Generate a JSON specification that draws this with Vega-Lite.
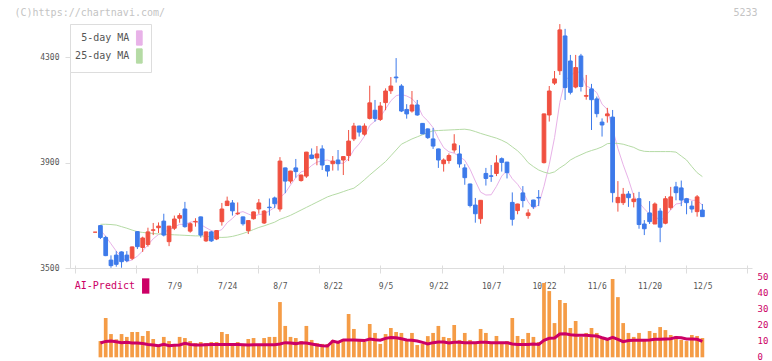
{
  "$schema": "https://vega.github.io/schema/vega-lite/v6.json",
  "width": 682,
  "height": 334,
  "autosize": {"type": "none"},
  "padding": {"left": 70, "top": 24, "right": 20, "bottom": 3},
  "background": "white",
  "config": {"view": {"stroke": null}, "font": "DejaVu Sans Mono"},
  "datasets": {
    "k": [
      {"i":-1,"o":3636,"h":3636,"l":3636,"c":3636,"m5":null,"m25":null,"v":null,"p":null},
      {"i":0,"o":3661,"h":3663,"l":3610,"c":3616,"m5":3644,"m25":3666,"v":10.2,"p":9.0},
      {"i":1,"o":3616,"h":3622,"l":3545,"c":3547,"m5":3620,"m25":3666,"v":24.7,"p":10.0},
      {"i":2,"o":3530,"h":3548,"l":3501,"c":3509,"m5":3592,"m25":3665,"v":14.6,"p":10.2},
      {"i":3,"o":3549,"h":3564,"l":3505,"c":3514,"m5":3564,"m25":3663,"v":11.3,"p":9.8},
      {"i":4,"o":3561,"h":3563,"l":3501,"c":3524,"m5":3542,"m25":3657,"v":14.6,"p":9.2},
      {"i":5,"o":3549,"h":3564,"l":3522,"c":3528,"m5":3524,"m25":3651,"v":12.8,"p":9.4},
      {"i":6,"o":3537,"h":3581,"l":3530,"c":3580,"m5":3531,"m25":3644,"v":15.9,"p":9.0},
      {"i":7,"o":3638,"h":3640,"l":3572,"c":3581,"m5":3545,"m25":3638,"v":15.9,"p":9.0},
      {"i":8,"o":3578,"h":3619,"l":3561,"c":3614,"m5":3565,"m25":3635,"v":13.4,"p":8.6},
      {"i":9,"o":3589,"h":3653,"l":3581,"c":3637,"m5":3588,"m25":3633,"v":16.5,"p":8.1},
      {"i":10,"o":3643,"h":3671,"l":3625,"c":3645,"m5":3611,"m25":3631,"v":11.5,"p":7.7},
      {"i":11,"o":3653,"h":3673,"l":3633,"c":3659,"m5":3627,"m25":3629,"v":7.7,"p":7.3},
      {"i":12,"o":3678,"h":3706,"l":3620,"c":3625,"m5":3636,"m25":3628,"v":12.8,"p":8.1},
      {"i":13,"o":3600,"h":3660,"l":3583,"c":3659,"m5":3645,"m25":3627,"v":10.2,"p":7.3},
      {"i":14,"o":3651,"h":3699,"l":3644,"c":3686,"m5":3655,"m25":3626,"v":7.7,"p":7.5},
      {"i":15,"o":3689,"h":3708,"l":3672,"c":3699,"m5":3666,"m25":3625,"v":12.8,"p":7.7},
      {"i":16,"o":3724,"h":3751,"l":3653,"c":3657,"m5":3665,"m25":3624,"v":12.1,"p":8.8},
      {"i":17,"o":3640,"h":3673,"l":3634,"c":3668,"m5":3674,"m25":3623,"v":10.2,"p":8.1},
      {"i":18,"o":3675,"h":3689,"l":3657,"c":3677,"m5":3677,"m25":3622,"v":9.0,"p":7.7},
      {"i":19,"o":3694,"h":3695,"l":3615,"c":3625,"m5":3665,"m25":3622,"v":9.6,"p":7.7},
      {"i":20,"o":3603,"h":3638,"l":3599,"c":3637,"m5":3653,"m25":3620,"v":9.0,"p":7.9},
      {"i":21,"o":3637,"h":3641,"l":3599,"c":3603,"m5":3642,"m25":3619,"v":9.6,"p":8.1},
      {"i":22,"o":3610,"h":3643,"l":3606,"c":3642,"m5":3637,"m25":3617,"v":9.6,"p":8.1},
      {"i":23,"o":3676,"h":3747,"l":3661,"c":3724,"m5":3646,"m25":3616,"v":15.9,"p":8.1},
      {"i":24,"o":3737,"h":3771,"l":3736,"c":3754,"m5":3672,"m25":3617,"v":14.6,"p":8.1},
      {"i":25,"o":3747,"h":3758,"l":3699,"c":3717,"m5":3688,"m25":3620,"v":8.4,"p":8.1},
      {"i":26,"o":3706,"h":3749,"l":3701,"c":3708,"m5":3709,"m25":3625,"v":9.6,"p":8.1},
      {"i":27,"o":3694,"h":3695,"l":3661,"c":3668,"m5":3714,"m25":3631,"v":8.4,"p":7.9},
      {"i":28,"o":3642,"h":3681,"l":3629,"c":3680,"m5":3705,"m25":3638,"v":11.5,"p":7.7},
      {"i":29,"o":3687,"h":3714,"l":3684,"c":3713,"m5":3697,"m25":3646,"v":12.1,"p":7.9},
      {"i":30,"o":3724,"h":3762,"l":3706,"c":3747,"m5":3703,"m25":3654,"v":8.4,"p":7.9},
      {"i":31,"o":3671,"h":3720,"l":3667,"c":3716,"m5":3705,"m25":3660,"v":12.1,"p":7.9},
      {"i":32,"o":3731,"h":3764,"l":3699,"c":3729,"m5":3717,"m25":3667,"v":12.8,"p":7.9},
      {"i":33,"o":3766,"h":3771,"l":3727,"c":3744,"m5":3730,"m25":3674,"v":12.8,"p":7.9},
      {"i":34,"o":3724,"h":3921,"l":3714,"c":3906,"m5":3768,"m25":3685,"v":34.7,"p":8.4},
      {"i":35,"o":3880,"h":3881,"l":3784,"c":3830,"m5":3785,"m25":3692,"v":19.7,"p":9.2},
      {"i":36,"o":3830,"h":3869,"l":3821,"c":3868,"m5":3815,"m25":3700,"v":12.8,"p":9.0},
      {"i":37,"o":3880,"h":3914,"l":3843,"c":3866,"m5":3843,"m25":3710,"v":12.1,"p":8.6},
      {"i":38,"o":3832,"h":3854,"l":3828,"c":3853,"m5":3865,"m25":3720,"v":10.2,"p":9.2},
      {"i":39,"o":3849,"h":3941,"l":3842,"c":3940,"m5":3871,"m25":3730,"v":19.7,"p":9.0},
      {"i":40,"o":3929,"h":3954,"l":3913,"c":3916,"m5":3889,"m25":3740,"v":10.9,"p":8.4},
      {"i":41,"o":3918,"h":3963,"l":3890,"c":3933,"m5":3902,"m25":3750,"v":9.0,"p":7.7},
      {"i":42,"o":3952,"h":3966,"l":3872,"c":3891,"m5":3907,"m25":3760,"v":8.4,"p":7.3},
      {"i":43,"o":3889,"h":3890,"l":3847,"c":3868,"m5":3910,"m25":3770,"v":8.4,"p":7.1},
      {"i":44,"o":3896,"h":3925,"l":3870,"c":3906,"m5":3903,"m25":3777,"v":10.9,"p":10.2},
      {"i":45,"o":3910,"h":3948,"l":3870,"c":3896,"m5":3899,"m25":3783,"v":9.0,"p":9.4},
      {"i":46,"o":3910,"h":3924,"l":3853,"c":3923,"m5":3897,"m25":3790,"v":11.5,"p":10.9},
      {"i":47,"o":3927,"h":4024,"l":3906,"c":3982,"m5":3915,"m25":3797,"v":27.2,"p":10.9},
      {"i":48,"o":3990,"h":4051,"l":3982,"c":4039,"m5":3949,"m25":3803,"v":17.8,"p":10.9},
      {"i":49,"o":4039,"h":4040,"l":3999,"c":4016,"m5":3971,"m25":3818,"v":11.5,"p":10.7},
      {"i":50,"o":4008,"h":4049,"l":4002,"c":4039,"m5":4000,"m25":3835,"v":9.6,"p":10.5},
      {"i":51,"o":4068,"h":4192,"l":4064,"c":4127,"m5":4041,"m25":3853,"v":20.9,"p":11.5},
      {"i":52,"o":4099,"h":4138,"l":4056,"c":4068,"m5":4058,"m25":3870,"v":15.3,"p":11.0},
      {"i":53,"o":4064,"h":4130,"l":4058,"c":4115,"m5":4073,"m25":3887,"v":8.4,"p":10.7},
      {"i":54,"o":4128,"h":4182,"l":4099,"c":4172,"m5":4104,"m25":3904,"v":14.6,"p":11.9},
      {"i":55,"o":4173,"h":4225,"l":4161,"c":4191,"m5":4135,"m25":3926,"v":18.4,"p":12.5},
      {"i":56,"o":4225,"h":4297,"l":4204,"c":4222,"m5":4154,"m25":3948,"v":15.9,"p":12.3},
      {"i":57,"o":4191,"h":4198,"l":4092,"c":4096,"m5":4159,"m25":3970,"v":15.3,"p":11.7},
      {"i":58,"o":4102,"h":4122,"l":4067,"c":4085,"m5":4153,"m25":3980,"v":10.9,"p":10.9},
      {"i":59,"o":4096,"h":4172,"l":4090,"c":4119,"m5":4143,"m25":3990,"v":15.3,"p":10.7},
      {"i":60,"o":4119,"h":4138,"l":4078,"c":4081,"m5":4121,"m25":3998,"v":7.7,"p":10.2},
      {"i":61,"o":4049,"h":4050,"l":4009,"c":4009,"m5":4078,"m25":4006,"v":8.5,"p":9.4},
      {"i":62,"o":4028,"h":4030,"l":3990,"c":3995,"m5":4058,"m25":4014,"v":13.3,"p":8.4},
      {"i":63,"o":3990,"h":4032,"l":3952,"c":3963,"m5":4033,"m25":4021,"v":15.3,"p":9.2},
      {"i":64,"o":3952,"h":3953,"l":3880,"c":3910,"m5":3992,"m25":4022,"v":19.7,"p":9.6},
      {"i":65,"o":3896,"h":3916,"l":3866,"c":3910,"m5":3957,"m25":4023,"v":12.8,"p":9.6},
      {"i":66,"o":3908,"h":3935,"l":3896,"c":3927,"m5":3941,"m25":4024,"v":12.1,"p":9.0},
      {"i":67,"o":3948,"h":4008,"l":3938,"c":3971,"m5":3936,"m25":4025,"v":20.3,"p":9.4},
      {"i":68,"o":3933,"h":3966,"l":3881,"c":3895,"m5":3923,"m25":4026,"v":10.9,"p":9.4},
      {"i":69,"o":3880,"h":3894,"l":3816,"c":3843,"m5":3909,"m25":4027,"v":15.3,"p":9.2},
      {"i":70,"o":3819,"h":3820,"l":3730,"c":3737,"m5":3875,"m25":4024,"v":10.9,"p":9.2},
      {"i":71,"o":3739,"h":3766,"l":3672,"c":3706,"m5":3830,"m25":4018,"v":9.6,"p":9.2},
      {"i":72,"o":3687,"h":3758,"l":3668,"c":3757,"m5":3788,"m25":4011,"v":17.8,"p":9.4},
      {"i":73,"o":3859,"h":3880,"l":3813,"c":3840,"m5":3777,"m25":4005,"v":15.3,"p":9.4},
      {"i":74,"o":3850,"h":3891,"l":3827,"c":3848,"m5":3778,"m25":3999,"v":9.0,"p":9.2},
      {"i":75,"o":3859,"h":3928,"l":3849,"c":3899,"m5":3810,"m25":3993,"v":13.4,"p":9.2},
      {"i":76,"o":3915,"h":3920,"l":3866,"c":3901,"m5":3849,"m25":3985,"v":9.0,"p":9.2},
      {"i":77,"o":3902,"h":3903,"l":3840,"c":3862,"m5":3870,"m25":3975,"v":10.2,"p":9.2},
      {"i":78,"o":3749,"h":3787,"l":3661,"c":3685,"m5":3839,"m25":3960,"v":24.7,"p":8.4},
      {"i":79,"o":3718,"h":3744,"l":3704,"c":3743,"m5":3818,"m25":3945,"v":13.4,"p":8.1},
      {"i":80,"o":3785,"h":3811,"l":3730,"c":3756,"m5":3789,"m25":3925,"v":11.5,"p":8.1},
      {"i":81,"o":3699,"h":3723,"l":3687,"c":3709,"m5":3751,"m25":3900,"v":15.3,"p":8.1},
      {"i":82,"o":3758,"h":3759,"l":3725,"c":3733,"m5":3725,"m25":3885,"v":12.8,"p":8.4},
      {"i":83,"o":3768,"h":3796,"l":3735,"c":3766,"m5":3741,"m25":3872,"v":9.6,"p":8.1},
      {"i":84,"o":3900,"h":4086,"l":3897,"c":4085,"m5":3810,"m25":3864,"v":46.7,"p":10.7},
      {"i":85,"o":4081,"h":4191,"l":4056,"c":4172,"m5":3893,"m25":3859,"v":41.6,"p":11.9},
      {"i":86,"o":4202,"h":4248,"l":4195,"c":4218,"m5":3995,"m25":3865,"v":21.5,"p":12.1},
      {"i":87,"o":4249,"h":4426,"l":4233,"c":4404,"m5":4129,"m25":3880,"v":36.0,"p":14.6},
      {"i":88,"o":4381,"h":4408,"l":4138,"c":4185,"m5":4213,"m25":3893,"v":34.1,"p":14.8},
      {"i":89,"o":4286,"h":4309,"l":4159,"c":4167,"m5":4229,"m25":3910,"v":18.4,"p":14.2},
      {"i":90,"o":4187,"h":4309,"l":4182,"c":4261,"m5":4247,"m25":3921,"v":22.8,"p":13.8},
      {"i":91,"o":4305,"h":4313,"l":4170,"c":4189,"m5":4241,"m25":3930,"v":12.8,"p":13.8},
      {"i":92,"o":4152,"h":4233,"l":4139,"c":4155,"m5":4191,"m25":3939,"v":15.3,"p":13.8},
      {"i":93,"o":4180,"h":4199,"l":4024,"c":4139,"m5":4182,"m25":3946,"v":18.4,"p":13.6},
      {"i":94,"o":4142,"h":4151,"l":4072,"c":4086,"m5":4166,"m25":3952,"v":15.3,"p":13.4},
      {"i":95,"o":4054,"h":4068,"l":3999,"c":4043,"m5":4122,"m25":3960,"v":12.8,"p":12.3},
      {"i":96,"o":4078,"h":4108,"l":4052,"c":4085,"m5":4102,"m25":3972,"v":10.9,"p":11.3},
      {"i":97,"o":4073,"h":4100,"l":3749,"c":3786,"m5":4028,"m25":3974,"v":49.2,"p":12.5},
      {"i":98,"o":3748,"h":3830,"l":3714,"c":3768,"m5":3954,"m25":3973,"v":37.8,"p":11.3},
      {"i":99,"o":3748,"h":3804,"l":3739,"c":3780,"m5":3892,"m25":3970,"v":21.5,"p":9.8},
      {"i":100,"o":3781,"h":3792,"l":3732,"c":3767,"m5":3837,"m25":3964,"v":15.3,"p":10.5},
      {"i":101,"o":3752,"h":3785,"l":3730,"c":3762,"m5":3773,"m25":3958,"v":12.8,"p":10.7},
      {"i":102,"o":3763,"h":3789,"l":3649,"c":3665,"m5":3748,"m25":3948,"v":15.3,"p":10.7},
      {"i":103,"o":3667,"h":3682,"l":3625,"c":3649,"m5":3725,"m25":3943,"v":10.9,"p":10.7},
      {"i":104,"o":3709,"h":3754,"l":3667,"c":3676,"m5":3704,"m25":3942,"v":16.5,"p":10.9},
      {"i":105,"o":3667,"h":3749,"l":3667,"c":3743,"m5":3699,"m25":3942,"v":15.3,"p":11.3},
      {"i":106,"o":3716,"h":3727,"l":3598,"c":3655,"m5":3678,"m25":3942,"v":19.0,"p":11.3},
      {"i":107,"o":3670,"h":3773,"l":3666,"c":3763,"m5":3697,"m25":3942,"v":17.1,"p":11.5},
      {"i":108,"o":3729,"h":3808,"l":3721,"c":3770,"m5":3721,"m25":3942,"v":14.0,"p":11.7},
      {"i":109,"o":3808,"h":3827,"l":3757,"c":3786,"m5":3743,"m25":3940,"v":13.4,"p":12.5},
      {"i":110,"o":3804,"h":3832,"l":3735,"c":3758,"m5":3746,"m25":3925,"v":10.9,"p":12.3},
      {"i":111,"o":3763,"h":3764,"l":3704,"c":3748,"m5":3765,"m25":3910,"v":10.2,"p":11.5},
      {"i":112,"o":3735,"h":3754,"l":3710,"c":3724,"m5":3757,"m25":3885,"v":14.0,"p":11.5},
      {"i":113,"o":3714,"h":3777,"l":3695,"c":3770,"m5":3757,"m25":3862,"v":13.4,"p":11.3},
      {"i":114,"o":3720,"h":3743,"l":3695,"c":3695,"m5":3739,"m25":3847,"v":12.1,"p":10.0}
    ]
  },
  "data": {"name": "k"},
  "resolve": {"scale": {"y": "independent", "color": "independent"}, "axis": {"x": "independent"}},
  "layer": [
    {
      "encoding": {
        "x": {
          "field": "i", "type": "quantitative",
          "scale": {"domain": [-4.8143, 122.4482], "nice": false, "zero": false},
          "axis": {
            "orient": "bottom", "offset": -93, "title": null, "grid": false,
            "values": [-4.8143, 6.755, 18.3243, 29.8936, 41.4629, 53.0322, 64.6015, 76.1708, 87.7401, 99.3094, 110.8787, 122.448],
            "labels": false, "domain": false, "ticks": true, "tickSize": 8, "tickColor": "#dddddd", "tickWidth": 1
          }
        }
      },
      "layer": [
        {
          "transform": [{"fold": ["m5", "m25"], "as": ["key", "val"]}],
          "mark": {"type": "line", "strokeWidth": 1, "interpolate": "linear"},
          "encoding": {
            "y": {
              "field": "val", "type": "quantitative",
              "scale": {"domain": [3500, 4426.4], "range": [244, 0], "nice": false, "zero": false},
              "axis": {
                "orient": "left", "title": "(C)https://chartnavi.com/", "titleAngle": 0, "titleX": -56, "titleY": -11.5,
                "titleAlign": "left", "titleBaseline": "middle", "titleFont": "DejaVu Sans Mono", "titleFontSize": 10,
                "titleFontWeight": "normal", "titleColor": "#c4c4c4",
                "values": [3500, 3900, 4300], "format": "d", "grid": false, "domainColor": "#dddddd", "tickColor": "#dddddd",
                "tickSize": 5, "labelPadding": 6, "labelFont": "DejaVu Sans Mono", "labelFontSize": 8,
                "labelColor": "#555555", "labelFlush": false, "labelBaseline": "middle"
              }
            },
            "color": {
              "field": "key", "type": "nominal",
              "scale": {"domain": ["m5", "m25"], "range": ["#e8b2e8", "#b5dba5"]},
              "legend": {
                "orient": "top-left", "offset": 0, "title": null, "direction": "vertical",
                "fillColor": "white", "strokeColor": "#dddddd", "padding": 6, "rowPadding": -2.5,
                "symbolType": "M-0.4,-1H0.4V1H-0.4Z", "symbolSize": 204, "symbolStrokeWidth": 1,
                "labelAlign": "right", "labelOffset": -18, "symbolOffset": 55.3,
                "labelFont": "DejaVu Sans Mono", "labelFontSize": 10, "labelColor": "#555555", "labelLimit": 200,
                "labelExpr": "datum.label == 'm5' ? '5-day MA' : '25-day MA'",
                "encode": {
                  "symbols": {"update": {
                    "fill": {"signal": "datum.value == 'm5' ? '#e8b2e8' : '#b5dba5'"},
                    "stroke": {"value": "#666666"}, "strokeWidth": {"value": 1}, "opacity": {"value": 1}, "fillOpacity": {"value": 1}
                  }},
                  "labels": {"update": {"align": {"value": "right"}}}
                }
              }
            }
          }
        },
        {
          "mark": {"type": "rule", "strokeWidth": 1},
          "encoding": {
            "y": {"field": "l", "type": "quantitative"},
            "y2": {"field": "h"},
            "color": {"condition": {"test": "datum.c >= datum.o", "value": "#f05040"}, "value": "#3d7aea"}
          }
        },
        {
          "mark": {"type": "bar", "width": 3.7, "strokeWidth": 1},
          "encoding": {
            "y": {"field": "o", "type": "quantitative"},
            "y2": {"field": "c"},
            "color": {"condition": {"test": "datum.c >= datum.o", "value": "#f05040"}, "value": "#3d7aea"},
            "stroke": {"condition": {"test": "datum.c >= datum.o", "value": "#f05040"}, "value": "#3d7aea"}
          }
        }
      ]
    },
    {
      "encoding": {
        "x": {
          "field": "i", "type": "quantitative",
          "scale": {"domain": [-4.8143, 122.4482], "nice": false, "zero": false},
          "axis": {
            "orient": "bottom", "offset": -90, "title": null, "grid": false,
            "values": [14, 24, 34, 44, 54, 64, 74, 84, 94, 104, 114],
            "labelExpr": "['7/9','7/24','8/7','8/22','9/5','9/22','10/7','10/22','11/6','11/20','12/5'][indexof([14,24,34,44,54,64,74,84,94,104,114], datum.value)]",
            "ticks": false, "tickSize": 0, "domain": true, "domainColor": "#dddddd",
            "labelPadding": 18, "labelBaseline": "middle", "labelFont": "DejaVu Sans Mono", "labelFontSize": 8,
            "labelColor": "#555555", "labelFlush": false, "labelOverlap": false
          }
        }
      },
      "layer": [
        {
          "mark": {"type": "bar", "width": 3.7, "color": "#f59c46"},
          "encoding": {
            "y": {
              "field": "v", "type": "quantitative",
              "scale": {"domain": [0, 50], "range": [333.3, 253.7], "nice": false},
              "axis": {
                "orient": "right", "values": [0, 10, 20, 30, 40, 50], "grid": false, "domain": false, "ticks": false,
                "tickSize": 0, "labelPadding": 5, "labelFont": "DejaVu Sans Mono", "labelFontSize": 9,
                "labelColor": "#cc0066", "labelBaseline": "middle", "labelFlush": false, "labelOffset": -1,
                "title": "5233", "titleAngle": 0, "titleX": 5, "titleY": -11.5, "titleAlign": "right",
                "titleBaseline": "middle", "titleFont": "DejaVu Sans Mono", "titleFontSize": 10,
                "titleFontWeight": "normal", "titleColor": "#c4c4c4"
              }
            }
          }
        },
        {
          "mark": {"type": "line", "strokeWidth": 3},
          "encoding": {
            "y": {"field": "p", "type": "quantitative"},
            "color": {
              "datum": "AI-Predict",
              "scale": {"domain": ["AI-Predict"], "range": ["#cc0066"]},
              "legend": {
                "orient": "none", "legendX": 0, "legendY": 254, "title": null, "padding": 0,
                "symbolType": "M-0.48,-1H0.48V1H-0.48Z", "symbolSize": 234, "symbolStrokeWidth": 0,
                "labelAlign": "right", "labelOffset": -18.7, "symbolOffset": 67.7,
                "labelFont": "DejaVu Sans Mono", "labelFontSize": 10, "labelColor": "#cc0066", "labelLimit": 200,
                "encode": {
                  "symbols": {"update": {
                    "fill": {"value": "#cc0066"}, "stroke": {"value": "#cc0066"}, "strokeWidth": {"value": 0},
                    "opacity": {"value": 1}, "fillOpacity": {"value": 1}
                  }},
                  "labels": {"update": {"align": {"value": "right"}}}
                }
              }
            }
          }
        }
      ]
    }
  ]
}
